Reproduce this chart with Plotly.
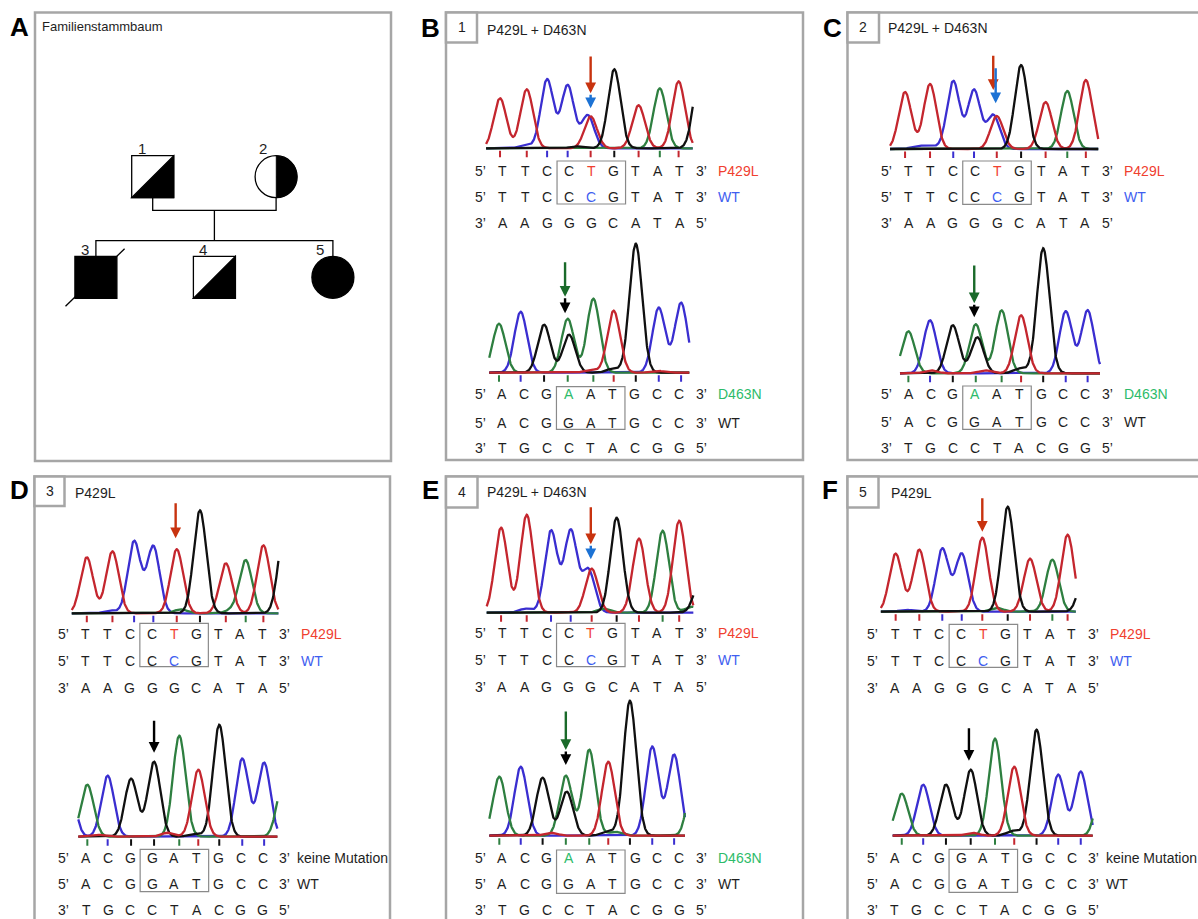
import numpy as np
import plotly.graph_objects as go

# ======================= DATA =======================
# Sequences shown under the chromatograms
P429L_MUT = list("TTCCTGTAT")
P429L_WT = list("TTCCCGTAT")
P429L_REV = list("AAGGGCATA")
D463N_MUT = list("ACGAATGCC")
D463N_WT = list("ACGGATGCC")
D463N_REV = list("TGCCTACGG")

# Chromatogram peaks: channel base, position (in base-call units), signal height
B_TOP_BASES = ["T", "T", "C", "C", "C", "T", "G", "T", "A", "T", "G", "C", "G"]
B_TOP_POS = [0.87, 2.08, 3.00, 3.93, 4.84, 4.97, 6.04, 7.14, 8.10, 8.95, 9.90, 2.00, 4.30]
B_TOP_HGT = [50, 59, 69, 63, 33, 32, 79, 43, 60, 67, 75, 3, 2]

B_BOT_BASES = ["A", "C", "G", "A", "G", "A", "T", "G", "C", "C", "G", "T", "T"]
B_BOT_POS = [0.85, 1.83, 2.89, 3.96, 4.02, 5.12, 6.04, 7.04, 8.08, 9.09, 6.00, 5.00, 8.00]
B_BOT_HGT = [49, 61, 48, 54, 38, 74, 62, 129, 65, 70, 4, 3, 2]

C_TOP_BASES = ["T", "T", "C", "C", "C", "T", "G", "T", "A", "T", "C", "C"]
C_TOP_POS = [0.84, 1.97, 3.02, 3.96, 4.83, 4.99, 6.09, 7.20, 8.18, 9.02, 1.40, 2.00]
C_TOP_HGT = [57, 65, 68, 59, 34, 33, 84, 47, 58, 69, 3, 3]

C_BOT_BASES = ["A", "C", "G", "A", "G", "A", "T", "G", "C", "C", "G", "T", "T"]
C_BOT_POS = [0.99, 1.97, 3.00, 4.04, 4.11, 5.21, 6.09, 7.09, 8.11, 9.10, 6.05, 4.50, 2.00]
C_BOT_HGT = [42, 53, 48, 49, 36, 63, 58, 125, 62, 63, 5, 3, 3]

D_TOP_BASES = ["T", "T", "C", "C", "T", "G", "T", "A", "T", "G", "A", "C", "A"]
D_TOP_POS = [1.05, 2.21, 3.19, 4.06, 5.12, 6.17, 7.34, 8.24, 9.04, 10.00, 5.30, 2.10, 7.60]
D_TOP_HGT = [56, 62, 72, 67, 64, 103, 50, 53, 68, 85, 4, 3, 3]

D_BOT_BASES = ["C", "A", "C", "G", "G", "A", "T", "G", "C", "C", "A", "T", "T", "G"]
D_BOT_POS = [0.20, 1.06, 1.98, 3.04, 4.08, 5.22, 6.08, 7.03, 8.07, 9.06, 9.91, 4.70, 1.50, 5.90]
D_BOT_HGT = [60, 52, 61, 58, 75, 101, 67, 112, 78, 74, 52, 4, 2, 3]

E_TOP_BASES = ["T", "T", "C", "C", "C", "T", "G", "T", "A", "T", "G", "C", "A", "A"]
E_TOP_POS = [0.94, 2.10, 3.20, 4.09, 4.89, 5.04, 6.17, 7.18, 8.25, 9.00, 9.94, 2.05, 5.60, 9.55]
E_TOP_HGT = [85, 98, 82, 82, 43, 44, 95, 74, 82, 92, 30, 4, 4, 6]

E_BOT_BASES = ["A", "C", "G", "A", "G", "A", "T", "G", "C", "C", "A", "G", "A", "T"]
E_BOT_POS = [0.86, 1.83, 2.82, 3.87, 3.91, 4.93, 5.79, 6.77, 7.78, 8.77, 9.70, 5.75, 6.10, 3.20]
E_BOT_HGT = [59, 69, 58, 60, 44, 86, 74, 135, 89, 81, 75, 4, 4, 3]

F_TOP_BASES = ["T", "T", "C", "C", "T", "G", "T", "A", "T", "G", "A", "C"]
F_TOP_POS = [1.03, 2.10, 3.14, 4.02, 4.95, 6.10, 7.11, 8.12, 8.81, 9.60, 5.60, 1.50]
F_TOP_HGT = [58, 62, 63, 58, 74, 105, 53, 52, 77, 40, 4, 2]

F_BOT_BASES = ["A", "C", "G", "G", "A", "T", "G", "C", "C", "A", "G", "T"]
F_BOT_POS = [1.31, 2.28, 3.31, 4.43, 5.53, 6.40, 7.41, 8.39, 9.41, 10.40, 6.35, 4.50]
F_BOT_HGT = [42, 51, 51, 66, 97, 69, 106, 61, 64, 60, 5, 3]

# Pedigree
PED_ID = [1, 2, 3, 4, 5]
PED_SEX = ["M", "F", "M", "M", "F"]
PED_GEN = [1, 1, 2, 2, 2]
PED_STATUS = ["carrier", "carrier", "affected", "carrier", "affected"]
PED_DECEASED = [False, False, True, False, False]

PANEL_TITLES = {"A": "Familienstammbaum", "B": "P429L + D463N", "C": "P429L + D463N",
                "D": "P429L", "E": "P429L + D463N", "F": "P429L"}
PANEL_NUMBERS = {"B": "1", "C": "2", "D": "3", "E": "4", "F": "5"}

# ======================= STYLE / LAYOUT =======================
W, H = 1198, 919


def fx(p):
    return p / W


def fy(p):
    return 1 - p / H


FONT = "Arial, Liberation Sans, sans-serif"
TXT = "#1e1e1e"
TRACE_COL = {"A": "#2e7f40", "C": "#3a2ed0", "G": "#101010", "T": "#c4262e"}
TEXT_RED, TEXT_BLUE, TEXT_GREEN = "#f0402f", "#3f5ef0", "#2dbb6a"
ARROW_COL = {"red": "#c8330f", "blue": "#1c72d4", "green": "#1a6a2a", "black": "#000000"}
GRAY = "#a6a6a6"
S = 22.1        # px per base call
SIGMA = 0.285   # peak width (base units)

shapes, annos = [], []
axes = {}
fig = go.Figure()

# ---------- panel frames ----------
PANEL_BOX = {"A": (35, 12.5, 391, 461), "B": (446, 12.5, 803, 460), "C": (847.5, 12.5, 1215, 460),
             "D": (34.5, 476.5, 390, 940), "E": (446, 476.5, 803, 940), "F": (847.5, 476.5, 1215, 940)}
NUM_BOX = {"B": (446, 12.5, 477, 42.5), "C": (847.5, 12.5, 879, 42.5), "D": (34.5, 476.5, 64.5, 506),
           "E": (446, 476.5, 477.5, 507.5), "F": (847.5, 476.5, 878.5, 507.5)}
LETTER_POS = {"A": (19, 27), "B": (430, 28), "C": (832, 28), "D": (19, 490), "E": (430, 490), "F": (830, 490)}
TITLE_POS = {"A": (40, 27), "B": (485, 29.5), "C": (886, 28.5), "D": (72.7, 493), "E": (485, 492), "F": (889, 493)}

for key, (x0, y0, x1, y1) in PANEL_BOX.items():
    shapes.append(dict(type="rect", xref="paper", yref="paper", x0=fx(x0), x1=fx(x1), y0=fy(y1), y1=fy(y0),
                       line=dict(color=GRAY, width=2.5), fillcolor="rgba(0,0,0,0)"))
for key, (x0, y0, x1, y1) in NUM_BOX.items():
    shapes.append(dict(type="rect", xref="paper", yref="paper", x0=fx(x0), x1=fx(x1), y0=fy(y1), y1=fy(y0),
                       line=dict(color=GRAY, width=2.5), fillcolor="white"))
    annos.append(dict(text=PANEL_NUMBERS[key], xref="paper", yref="paper", x=fx((x0 + x1) / 2),
                      y=fy((y0 + y1) / 2), showarrow=False, xanchor="center", yanchor="middle",
                      font=dict(family=FONT, size=14, color=TXT)))
for key, (x, y) in LETTER_POS.items():
    annos.append(dict(text="<b>%s</b>" % key, xref="paper", yref="paper", x=fx(x), y=fy(y), showarrow=False,
                      xanchor="center", yanchor="middle", font=dict(family=FONT, size=26, color="black")))
for key, (x, y) in TITLE_POS.items():
    annos.append(dict(text=PANEL_TITLES[key], xref="paper", yref="paper", x=fx(x), y=fy(y), showarrow=False,
                      xanchor="left", yanchor="middle",
                      font=dict(family=FONT, size=13 if key == "A" else 14, color=TXT)))

# ---------- pedigree (axis 1, 1 unit = 1 px) ----------
axes["xaxis"] = dict(domain=[fx(35), fx(391)], range=[35, 391], visible=False, fixedrange=True)
axes["yaxis"] = dict(domain=[fy(461), fy(12.5)], range=[461, 12.5], visible=False, fixedrange=True)
SYM = 42
GEN_TOP = {1: 155.7, 2: 256.3}
COUPLE_CX = 214.4
GEN_X = {1: [COUPLE_CX - 61.7, COUPLE_CX + 61.7], 2: [COUPLE_CX - 118.5, COUPLE_CX, COUPLE_CX + 118.5]}
MARRIAGE_Y, SIBSHIP_Y = 210.3, 240.7
LW = 1.3

ped = {}
count = {1: 0, 2: 0}
for pid, sex, gen, status, dead in zip(PED_ID, PED_SEX, PED_GEN, PED_STATUS, PED_DECEASED):
    cx = GEN_X[gen][count[gen]]
    count[gen] += 1
    top = GEN_TOP[gen]
    ped[pid] = (cx, top)
    x0, x1, y0, y1 = cx - SYM / 2, cx + SYM / 2, top, top + SYM
    if dead:
        shapes.append(dict(type="line", xref="x", yref="y", x0=x0 - 9.4, y0=y1 + 8, x1=x1 + 7.7, y1=y0 - 7.6,
                           line=dict(color="black", width=LW)))
    fill = "black" if status == "affected" else "white"
    if sex == "M":
        shapes.append(dict(type="rect", xref="x", yref="y", x0=x0, x1=x1, y0=y0, y1=y1, fillcolor=fill,
                           line=dict(color="black", width=LW)))
        if status == "carrier":
            shapes.append(dict(type="path", xref="x", yref="y",
                               path="M %.2f %.2f L %.2f %.2f L %.2f %.2f Z" % (x0, y1, x1, y1, x1, y0),
                               fillcolor="black", line=dict(color="black", width=LW)))
    else:
        shapes.append(dict(type="circle", xref="x", yref="y", x0=x0, x1=x1, y0=y0, y1=y1, fillcolor=fill,
                           line=dict(color="black", width=LW)))
        if status == "carrier":
            r = SYM / 2
            cy = top + r
            ang = np.linspace(-np.pi / 2, np.pi / 2, 40)
            pts = ["%.2f %.2f" % (cx + r * np.cos(a), cy + r * np.sin(a)) for a in ang]
            path = "M " + " L ".join(pts) + " Z"
            shapes.append(dict(type="path", xref="x", yref="y", path=path, fillcolor="black",
                               line=dict(color="black", width=0.5)))
    lx = x0 + 10 if sex == "M" else cx - 13
    annos.append(dict(text=str(pid), xref="x", yref="y", x=lx, y=top - 7, showarrow=False,
                      xanchor="center", yanchor="middle", font=dict(family=FONT, size=15, color=TXT)))

# relationship lines
fcx, ftop = ped[1]
mcx, mtop = ped[2]
shapes.append(dict(type="path", xref="x", yref="y",
                   path="M %.2f %.2f V %.2f H %.2f V %.2f" % (fcx, ftop + SYM, MARRIAGE_Y, mcx, mtop + SYM),
                   line=dict(color="black", width=LW)))
mid = (fcx + mcx) / 2
shapes.append(dict(type="line", xref="x", yref="y", x0=mid, x1=mid, y0=MARRIAGE_Y, y1=SIBSHIP_Y,
                   line=dict(color="black", width=LW)))
kids = [ped[i] for i, g in zip(PED_ID, PED_GEN) if g == 2]
shapes.append(dict(type="path", xref="x", yref="y",
                   path="M %.2f %.2f V %.2f H %.2f V %.2f" % (kids[0][0], kids[0][1], SIBSHIP_Y,
                                                               kids[-1][0], kids[-1][1]),
                   line=dict(color="black", width=LW)))

# ---------- chromatograms ----------
CHROMS = [
    dict(x1=502.9, base=148.3, xlo=0.24, xhi=9.59, rows=(170.7, 197.3, 223.3), box=(161, 204),
         bases=B_TOP_BASES, pos=B_TOP_POS, hgt=B_TOP_HGT, kind="P429L",
         arrows=[("red", 93.3, 55, 0.0), ("blue", 55, 40, 0.0)]),
    dict(x1=502.3, base=372.7, xlo=0.41, xhi=9.46, rows=(394.3, 422.7, 448.3), box=(386.7, 429.3),
         bases=B_BOT_BASES, pos=B_BOT_POS, hgt=B_BOT_HGT, kind="D463N",
         arrows=[("green", 112, 76, -0.12), ("black", 76, 59.4, -0.12)]),
    dict(x1=908.6, base=149, xlo=0.16, xhi=9.58, rows=(170.7, 196.7, 222.7), box=(161, 204.3),
         bases=C_TOP_BASES, pos=C_TOP_POS, hgt=C_TOP_HGT, kind="P429L",
         arrows=[("red", 94.7, 59, -0.16), ("blue", 82.3, 45.7, -0.05)]),
    dict(x1=908.6, base=373.3, xlo=0.61, xhi=9.66, rows=(394.3, 422.3, 448.3), box=(386, 429.3),
         bases=C_BOT_BASES, pos=C_BOT_POS, hgt=C_BOT_HGT, kind="D463N",
         arrows=[("green", 109.3, 70, -0.07), ("black", 70, 56, -0.07)]),
    dict(x1=85.7, base=613.3, xlo=0.37, xhi=9.72, rows=(634, 660.7, 688.3), box=(623.3, 666.7),
         bases=D_TOP_BASES, pos=D_TOP_POS, hgt=D_TOP_HGT, kind="P429L",
         arrows=[("red", 111.6, 75, -0.05)]),
    dict(x1=86.0, base=836.7, xlo=0.65, xhi=9.66, rows=(857.7, 884.3, 910), box=(849.3, 891.7),
         bases=D_BOT_BASES, pos=D_BOT_POS, hgt=D_BOT_HGT, kind="NONE",
         arrows=[("black", 117.4, 84, 0.0)]),
    dict(x1=502.4, base=612.7, xlo=0.29, xhi=9.64, rows=(633.3, 660, 686.7), box=(623.3, 666.7),
         bases=E_TOP_BASES, pos=E_TOP_POS, hgt=E_TOP_HGT, kind="P429L",
         arrows=[("red", 107, 68.4, -0.04), ("blue", 68.4, 53.4, -0.04)]),
    dict(x1=502.4, base=835.7, xlo=0.41, xhi=9.26, rows=(858.3, 884.3, 910), box=(850, 893.3),
         bases=E_BOT_BASES, pos=E_BOT_POS, hgt=E_BOT_HGT, kind="D463N",
         arrows=[("green", 125.7, 85.7, 0.0), ("black", 85.7, 70.7, 0.0)]),
    dict(x1=895.0, base=611.7, xlo=0.36, xhi=9.18, rows=(634, 660.7, 688.3), box=(624.3, 667.3),
         bases=F_TOP_BASES, pos=F_TOP_POS, hgt=F_TOP_HGT, kind="P429L",
         arrows=[("red", 115, 80, 0.0)]),
    dict(x1=894.9, base=835.7, xlo=0.90, xhi=9.95, rows=(857.7, 884.3, 910), box=(849.3, 892.3),
         bases=F_BOT_BASES, pos=F_BOT_POS, hgt=F_BOT_HGT, kind="NONE",
         arrows=[("black", 109, 75, -0.08)]),
]

KINDS = {
    "P429L": dict(rows=[P429L_MUT, P429L_WT, P429L_REV], hi=4,
                  hicol=[TEXT_RED, TEXT_BLUE], labels=[("P429L", TEXT_RED), ("WT", TEXT_BLUE)], lk=10.65),
    "D463N": dict(rows=[D463N_MUT, D463N_WT, D463N_REV], hi=3,
                  hicol=[TEXT_GREEN, TXT], labels=[("D463N", TEXT_GREEN), ("WT", TXT)], lk=10.65),
    "NONE": dict(rows=[D463N_WT, D463N_WT, D463N_REV], hi=3,
                 hicol=[TXT, TXT], labels=[("keine Mutation", TXT), ("WT", TXT)], lk=10.45),
}


def txt(text, xref, x, ypx, color=TXT, anchor="center", size=14):
    return dict(text=text, xref=xref, yref="paper", x=x, y=fy(ypx), showarrow=False, xanchor=anchor,
                yanchor="middle", font=dict(family=FONT, size=size, color=color))


for i, c in enumerate(CHROMS):
    n = i + 2
    xa, ya = "x%d" % n, "y%d" % n
    axes["xaxis%d" % n] = dict(domain=[fx(c["x1"] - 2 * S), fx(c["x1"] + 11 * S)], range=[-1, 12],
                               visible=False, anchor=ya, fixedrange=True)
    axes["yaxis%d" % n] = dict(domain=[fy(c["base"] + 12), fy(c["base"] - 140)], range=[-12, 140],
                               visible=False, anchor=xa, fixedrange=True)
    xs = np.linspace(c["xlo"], c["xhi"], 600)
    order = ["C", "A", "T", "G"] if c["kind"] == "P429L" else ["C", "A", "G", "T"]
    for ch in order:
        y = np.zeros_like(xs)
        for b, p, h in zip(c["bases"], c["pos"], c["hgt"]):
            if b == ch:
                y += h * np.exp(-(xs - p) ** 2 / (2 * SIGMA ** 2))
        fig.add_trace(go.Scatter(x=xs, y=y, mode="lines", xaxis=xa, yaxis=ya, hoverinfo="skip",
                                 line=dict(color=TRACE_COL[ch], width=2.3)))
    kind = KINDS[c["kind"]]
    called = kind["rows"][0]
    # base-call positions (tick marks) from the peaks
    call_pos = []
    for k, letter in enumerate(called, start=1):
        cand = [(abs(p - k), p) for b, p, h in zip(c["bases"], c["pos"], c["hgt"]) if b == letter and h > 15]
        call_pos.append(min(cand)[1])
    for ch in "ACGT":
        tx, ty = [], []
        for letter, p in zip(called, call_pos):
            if letter == ch:
                tx += [p, p, None]
                ty += [-2.5, -9, None]
        if tx:
            fig.add_trace(go.Scatter(x=tx, y=ty, mode="lines", xaxis=xa, yaxis=ya, hoverinfo="skip",
                                     line=dict(color=TRACE_COL[ch], width=2)))
    # sequence rows
    for r, seq in enumerate(kind["rows"]):
        ypx = c["rows"][r]
        ends = ("5’", "3’") if r < 2 else ("3’", "5’")
        annos.append(txt(ends[0], xa, 0.0, ypx))
        annos.append(txt(ends[1], xa, 10.0, ypx))
        for k, letter in enumerate(seq, start=1):
            col = TXT
            if r < 2 and k - 1 == kind["hi"]:
                col = kind["hicol"][r]
            annos.append(txt(letter, xa, k, ypx, color=col))
        if r < 2:
            lab, lcol = kind["labels"][r]
            annos.append(txt(lab, xa, kind["lk"], ypx, color=lcol, anchor="left"))
    # codon box
    shapes.append(dict(type="rect", xref=xa, yref="paper", x0=3.45, x1=6.55, y0=fy(c["box"][1]),
                       y1=fy(c["box"][0]), line=dict(color="#8a8a8a", width=1.2), fillcolor="rgba(0,0,0,0)"))
    # arrows at the inspected base
    target = call_pos[kind["hi"]]
    for col, tail, head, dx in c["arrows"]:
        annos.append(dict(text="", xref=xa, yref=ya, axref=xa, ayref=ya, x=target + dx, y=head,
                          ax=target + dx, ay=tail, showarrow=True, arrowhead=2, arrowsize=0.9,
                          arrowwidth=2.4, arrowcolor=ARROW_COL[col], standoff=0, startstandoff=0))

fig.update_layout(width=W, height=H, margin=dict(l=0, r=0, t=0, b=0), paper_bgcolor="white",
                  plot_bgcolor="rgba(0,0,0,0)", showlegend=False, shapes=shapes, annotations=annos, **axes)
fig.write_html("out.html", config={"displayModeBar": False},
               post_script="document.body.style.margin='0';document.body.style.overflow='hidden';")
